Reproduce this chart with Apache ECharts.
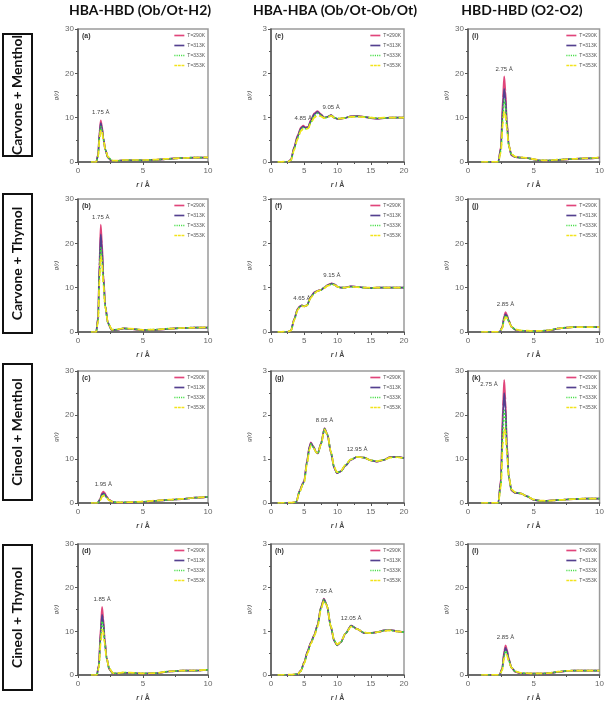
<!DOCTYPE html>
<html><head><meta charset="utf-8">
<script src="https://cdn.jsdelivr.net/npm/echarts@6/dist/echarts.min.js"></script>
<style>html,body{margin:0;padding:0;background:#fff}#c{width:607px;height:703px}</style>
</head><body><div id="c"></div>
<script>
// ---------------- DATA ----------------
const colTitles = ['HBA-HBD (Ob/Ot-H2)', 'HBA-HBA (Ob/Ot-Ob/Ot)', 'HBD-HBD (O2-O2)'];
const rowTitles = ['Carvone + Menthol', 'Carvone + Thymol', 'Cineol + Menthol', 'Cineol + Thymol'];
const temps = ['T=290K', 'T=313K', 'T=333K', 'T=353K'];
const panelLetters = ['(a)','(e)','(i)','(b)','(f)','(j)','(c)','(g)','(k)','(d)','(h)','(l)'];
const xTicksShort = [0, 5, 10];
const xTicksLong = [0, 5, 10, 15, 20];
const yTicksBig = [0, 10, 20, 30];
const yTicksSmall = [0, 1, 2, 3];

// (a) Carvone+Menthol, HBA-HBD
const rA = [1.0, 1.4, 1.55, 1.65, 1.75, 1.85, 1.95, 2.1, 2.3, 2.6, 3.0, 3.5, 4.0, 5.0, 6.0, 7.0, 8.0, 9.0, 10.0];
const gA290 = [0, 0, 1.8, 6.8, 9.4, 8.0, 5.5, 2.8, 1.0, 0.2, 0.2, 0.4, 0.4, 0.4, 0.5, 0.7, 0.9, 1.0, 1.0];
const gA313 = [0, 0, 1.6, 6.3, 8.8, 7.6, 5.3, 2.8, 1.0, 0.25, 0.2, 0.4, 0.4, 0.4, 0.5, 0.7, 0.9, 1.0, 1.0];
const gA333 = [0, 0, 1.4, 5.6, 8.0, 7.1, 5.1, 2.8, 1.1, 0.3, 0.25, 0.4, 0.45, 0.4, 0.5, 0.7, 0.9, 1.0, 1.0];
const gA353 = [0, 0.05, 1.2, 5.0, 7.3, 6.8, 5.0, 2.9, 1.2, 0.35, 0.3, 0.45, 0.45, 0.45, 0.55, 0.75, 0.9, 1.0, 1.05];
const peaksA = [[1.75, 9.4, '1.75 Å', 'top']];

// (b) Carvone+Thymol, HBA-HBD
const rB = [1.0, 1.4, 1.55, 1.65, 1.75, 1.85, 1.95, 2.1, 2.3, 2.6, 3.0, 3.5, 4.0, 5.0, 6.0, 7.0, 8.0, 9.0, 10.0];
const gB290 = [0, 0, 3.5, 16, 24.2, 20, 13, 6, 2.0, 0.4, 0.5, 0.8, 0.7, 0.4, 0.5, 0.7, 0.9, 1.0, 1.0];
const gB313 = [0, 0, 3.2, 15, 22, 18.5, 12.3, 5.8, 2.0, 0.45, 0.5, 0.8, 0.7, 0.45, 0.5, 0.7, 0.9, 1.0, 1.0];
const gB333 = [0, 0, 2.8, 13, 19, 16.5, 11.3, 5.6, 2.1, 0.5, 0.55, 0.8, 0.7, 0.45, 0.55, 0.75, 0.9, 1.0, 1.0];
const gB353 = [0, 0.05, 2.5, 11.5, 17.3, 15.5, 10.8, 5.5, 2.2, 0.55, 0.6, 0.85, 0.75, 0.5, 0.55, 0.75, 0.9, 1.0, 1.05];
const peaksB = [[1.75, 24.2, '1.75 Å', 'top']];

// (c) Cineol+Menthol, HBA-HBD
const rC = [1.0, 1.5, 1.7, 1.85, 1.95, 2.05, 2.2, 2.4, 2.7, 3.0, 3.5, 4.0, 5.0, 6.0, 7.0, 8.0, 9.0, 10.0];
const gC290 = [0, 0, 0.9, 2.3, 2.6, 2.3, 1.5, 0.7, 0.2, 0.1, 0.1, 0.15, 0.25, 0.5, 0.7, 0.9, 1.2, 1.4];
const gC313 = [0, 0, 0.8, 2.0, 2.2, 2.0, 1.35, 0.65, 0.2, 0.1, 0.1, 0.15, 0.25, 0.5, 0.7, 0.9, 1.2, 1.4];
const gC333 = [0, 0, 0.7, 1.7, 1.9, 1.8, 1.25, 0.65, 0.25, 0.12, 0.12, 0.18, 0.3, 0.5, 0.7, 0.9, 1.2, 1.4];
const gC353 = [0, 0.02, 0.6, 1.4, 1.6, 1.55, 1.15, 0.6, 0.25, 0.15, 0.15, 0.2, 0.3, 0.55, 0.75, 0.95, 1.2, 1.4];
const peaksC = [[1.95, 2.6, '1.95 Å', 'top']];

// (d) Cineol+Thymol, HBA-HBD
const rD = [1.0, 1.45, 1.6, 1.75, 1.85, 1.95, 2.05, 2.2, 2.4, 2.7, 3.0, 3.5, 4.0, 5.0, 6.0, 7.0, 8.0, 9.0, 10.0];
const gD290 = [0, 0, 2.3, 11, 15.6, 13, 8.5, 4, 1.3, 0.3, 0.3, 0.5, 0.5, 0.3, 0.4, 0.8, 1.0, 1.0, 1.2];
const gD313 = [0, 0, 2.1, 9.8, 13.8, 12, 8.0, 3.9, 1.4, 0.35, 0.3, 0.5, 0.5, 0.3, 0.4, 0.8, 1.0, 1.0, 1.2];
const gD333 = [0, 0, 1.8, 8.6, 12.3, 11, 7.6, 3.8, 1.4, 0.4, 0.35, 0.55, 0.5, 0.35, 0.45, 0.8, 1.0, 1.0, 1.2];
const gD353 = [0, 0.05, 1.6, 7.3, 10.4, 9.8, 7.2, 3.8, 1.5, 0.45, 0.4, 0.6, 0.55, 0.35, 0.45, 0.85, 1.0, 1.05, 1.2];
const peaksD = [[1.85, 15.6, '1.85 Å', 'top']];

// (e) Carvone+Menthol, HBA-HBA
const rE = [1, 2.5, 3.0, 3.5, 4.0, 4.5, 4.85, 5.2, 5.6, 6.0, 6.5, 7.0, 7.5, 8.0, 8.5, 9.05, 9.5, 10.0, 11, 12, 13, 14, 15, 16, 17, 18, 19, 20];
const gE290 = [0, 0, 0.05, 0.35, 0.6, 0.78, 0.82, 0.78, 0.8, 0.95, 1.1, 1.15, 1.08, 1.0, 1.02, 1.06, 1.0, 0.97, 0.99, 1.03, 1.04, 1.02, 0.99, 0.98, 0.99, 1.0, 1.0, 1.0];
const gE313 = [0, 0, 0.05, 0.33, 0.58, 0.76, 0.8, 0.77, 0.79, 0.93, 1.08, 1.13, 1.07, 1.0, 1.02, 1.06, 1.0, 0.97, 0.99, 1.03, 1.03, 1.02, 0.99, 0.98, 0.99, 1.0, 1.0, 1.0];
const gE333 = [0, 0, 0.04, 0.3, 0.55, 0.73, 0.77, 0.75, 0.77, 0.9, 1.04, 1.1, 1.05, 0.99, 1.01, 1.05, 1.0, 0.98, 0.99, 1.02, 1.03, 1.02, 1.0, 0.99, 0.99, 1.0, 1.0, 1.0];
const gE353 = [0, 0.01, 0.04, 0.28, 0.52, 0.7, 0.75, 0.74, 0.76, 0.88, 1.0, 1.06, 1.03, 0.99, 1.01, 1.04, 1.0, 0.98, 0.99, 1.02, 1.02, 1.01, 1.0, 0.99, 1.0, 1.0, 1.0, 1.0];
const peaksE = [[4.85, 0.82, '4.85 Å', 'top'], [9.05, 1.06, '9.05 Å', 'top']];

// (f) Carvone+Thymol, HBA-HBA
const rF = [1, 2.5, 3.0, 3.5, 4.0, 4.3, 4.65, 5.0, 5.4, 6.0, 6.5, 7.0, 7.5, 8.0, 8.5, 9.15, 9.6, 10.0, 10.5, 11, 12, 13, 14, 15, 16, 17, 18, 19, 20];
const gF290 = [0, 0, 0.03, 0.3, 0.52, 0.58, 0.6, 0.58, 0.6, 0.8, 0.9, 0.93, 0.95, 1.0, 1.06, 1.1, 1.07, 1.02, 1.0, 1.0, 1.03, 1.02, 1.0, 0.99, 1.0, 1.0, 1.0, 1.0, 1.0];
const gF313 = [0, 0, 0.03, 0.29, 0.51, 0.57, 0.6, 0.58, 0.6, 0.79, 0.89, 0.93, 0.95, 1.0, 1.05, 1.09, 1.07, 1.02, 1.0, 1.0, 1.03, 1.02, 1.0, 0.99, 1.0, 1.0, 1.0, 1.0, 1.0];
const gF333 = [0, 0, 0.03, 0.28, 0.5, 0.56, 0.59, 0.58, 0.6, 0.78, 0.88, 0.92, 0.95, 1.0, 1.05, 1.08, 1.06, 1.02, 1.0, 1.0, 1.02, 1.02, 1.0, 0.99, 1.0, 1.0, 1.0, 1.0, 1.0];
const gF353 = [0, 0.01, 0.03, 0.27, 0.49, 0.55, 0.58, 0.58, 0.6, 0.77, 0.87, 0.92, 0.95, 0.99, 1.04, 1.07, 1.06, 1.02, 1.0, 1.0, 1.02, 1.01, 1.0, 1.0, 1.0, 1.0, 1.0, 1.0, 1.0];
const peaksF = [[4.65, 0.6, '4.65 Å', 'top'], [9.15, 1.1, '9.15 Å', 'top']];

// (g) Cineol+Menthol, HBA-HBA
const rG = [1, 3.0, 3.8, 4.3, 4.8, 5.0, 5.4, 5.8, 6.0, 6.4, 6.8, 7.05, 7.5, 8.05, 8.5, 9.0, 9.5, 9.9, 10.5, 11.2, 12.0, 12.95, 14.0, 15.0, 15.9, 17.0, 17.9, 19.0, 20.0];
const gG290 = [0, 0, 0.02, 0.28, 0.45, 0.52, 0.95, 1.3, 1.38, 1.28, 1.15, 1.13, 1.35, 1.7, 1.55, 1.15, 0.8, 0.68, 0.72, 0.85, 0.98, 1.05, 1.03, 0.97, 0.94, 0.98, 1.05, 1.05, 1.02];
const gG313 = [0, 0, 0.02, 0.27, 0.44, 0.5, 0.93, 1.28, 1.36, 1.27, 1.15, 1.13, 1.34, 1.69, 1.55, 1.15, 0.8, 0.68, 0.72, 0.85, 0.98, 1.05, 1.03, 0.97, 0.94, 0.98, 1.04, 1.05, 1.02];
const gG333 = [0, 0, 0.02, 0.26, 0.43, 0.49, 0.9, 1.25, 1.34, 1.26, 1.15, 1.13, 1.33, 1.68, 1.55, 1.16, 0.81, 0.69, 0.72, 0.86, 0.99, 1.05, 1.03, 0.97, 0.95, 0.98, 1.04, 1.04, 1.02];
const gG353 = [0, 0.01, 0.02, 0.25, 0.42, 0.48, 0.88, 1.22, 1.31, 1.25, 1.15, 1.13, 1.32, 1.67, 1.55, 1.17, 0.82, 0.7, 0.73, 0.87, 0.99, 1.05, 1.03, 0.97, 0.95, 0.98, 1.03, 1.04, 1.02];
const peaksG = [[8.05, 1.7, '8.05 Å', 'top'], [12.95, 1.05, '12.95 Å', 'top']];

// (h) Cineol+Thymol, HBA-HBA
const rH = [1, 3.0, 4.0, 4.5, 5.0, 5.5, 6.0, 6.5, 7.0, 7.5, 7.95, 8.4, 9.0, 9.5, 9.95, 10.5, 11.2, 12.05, 13.0, 14.0, 15.0, 16.0, 17.0, 18.0, 19.0, 20.0];
const gH290 = [0, 0, 0.02, 0.1, 0.3, 0.55, 0.75, 0.92, 1.15, 1.55, 1.75, 1.6, 1.1, 0.78, 0.68, 0.75, 0.95, 1.13, 1.05, 0.96, 0.96, 0.98, 1.02, 1.03, 1.0, 0.98];
const gH313 = [0, 0, 0.02, 0.1, 0.29, 0.54, 0.74, 0.91, 1.14, 1.54, 1.74, 1.6, 1.1, 0.78, 0.68, 0.75, 0.95, 1.13, 1.05, 0.96, 0.96, 0.98, 1.02, 1.03, 1.0, 0.98];
const gH333 = [0, 0, 0.02, 0.09, 0.28, 0.52, 0.73, 0.9, 1.12, 1.52, 1.72, 1.6, 1.11, 0.79, 0.69, 0.75, 0.95, 1.12, 1.05, 0.97, 0.96, 0.98, 1.02, 1.02, 1.0, 0.98];
const gH353 = [0, 0.01, 0.02, 0.09, 0.27, 0.5, 0.72, 0.89, 1.1, 1.5, 1.7, 1.59, 1.12, 0.8, 0.7, 0.76, 0.95, 1.11, 1.05, 0.97, 0.96, 0.98, 1.01, 1.02, 1.0, 0.98];
const peaksH = [[7.95, 1.75, '7.95 Å', 'top'], [12.05, 1.13, '12.05 Å', 'top']];

// (i) Carvone+Menthol, HBD-HBD
const rI = [1.0, 2.3, 2.5, 2.65, 2.75, 2.85, 2.95, 3.1, 3.3, 3.6, 4.0, 4.5, 5.0, 5.5, 6.0, 7.0, 8.0, 9.0, 10.0];
const gI290 = [0, 0, 3.5, 14.5, 19.3, 16, 9.5, 3.8, 1.5, 1.1, 1.0, 0.9, 0.6, 0.3, 0.3, 0.5, 0.7, 0.8, 1.0];
const gI313 = [0, 0, 3.1, 12.5, 16.5, 14.2, 8.8, 3.7, 1.6, 1.1, 1.0, 0.9, 0.6, 0.3, 0.3, 0.5, 0.7, 0.8, 1.0];
const gI333 = [0, 0, 2.6, 10.5, 14, 12.5, 8.2, 3.7, 1.7, 1.15, 1.0, 0.9, 0.6, 0.35, 0.35, 0.55, 0.7, 0.8, 1.0];
const gI353 = [0, 0.05, 2.2, 8.6, 11.5, 10.8, 7.6, 3.7, 1.8, 1.2, 1.05, 0.9, 0.65, 0.4, 0.35, 0.55, 0.7, 0.85, 1.0];
const peaksI = [[2.75, 19.3, '2.75 Å', 'top']];

// (j) Carvone+Thymol, HBD-HBD
const rJ = [1.0, 2.4, 2.6, 2.75, 2.85, 2.95, 3.1, 3.3, 3.6, 4.0, 4.5, 5.0, 5.5, 6.0, 7.0, 7.5, 8.0, 9.0, 10.0];
const gJ290 = [0, 0, 1.1, 3.6, 4.5, 4.0, 2.6, 1.2, 0.5, 0.25, 0.2, 0.2, 0.2, 0.3, 0.8, 1.0, 1.1, 1.1, 1.1];
const gJ313 = [0, 0, 1.0, 3.2, 4.0, 3.7, 2.5, 1.2, 0.5, 0.25, 0.2, 0.2, 0.2, 0.3, 0.8, 1.0, 1.1, 1.1, 1.1];
const gJ333 = [0, 0, 0.9, 2.9, 3.7, 3.5, 2.4, 1.2, 0.55, 0.3, 0.25, 0.2, 0.25, 0.35, 0.85, 1.0, 1.1, 1.1, 1.1];
const gJ353 = [0, 0.02, 0.8, 2.6, 3.3, 3.2, 2.3, 1.2, 0.6, 0.35, 0.3, 0.25, 0.25, 0.35, 0.85, 1.0, 1.1, 1.1, 1.1];
const peaksJ = [[2.85, 4.5, '2.85 Å', 'top']];

// (k) Cineol+Menthol, HBD-HBD
const rK = [1.0, 2.3, 2.5, 2.65, 2.75, 2.85, 2.95, 3.1, 3.3, 3.6, 4.0, 4.5, 5.0, 5.5, 6.0, 7.0, 8.0, 9.0, 10.0];
const gK290 = [0, 0, 5.5, 22, 28, 23.5, 14, 6, 2.8, 2.3, 2.2, 1.5, 0.7, 0.5, 0.5, 0.7, 0.9, 1.0, 1.0];
const gK313 = [0, 0, 5, 19.5, 25, 21.5, 13.3, 6, 2.9, 2.3, 2.2, 1.5, 0.7, 0.5, 0.5, 0.7, 0.9, 1.0, 1.0];
const gK333 = [0, 0, 4.3, 16.5, 21, 19, 12.5, 6, 3.0, 2.4, 2.2, 1.5, 0.75, 0.5, 0.5, 0.7, 0.9, 1.0, 1.0];
const gK353 = [0, 0.05, 3.7, 13.3, 17, 16, 11.5, 6, 3.1, 2.4, 2.2, 1.5, 0.8, 0.55, 0.5, 0.7, 0.9, 1.0, 1.0];
const peaksK = [[2.75, 27, '2.75 Å', 'left']];

// (l) Cineol+Thymol, HBD-HBD
const rL = [1.0, 2.4, 2.6, 2.75, 2.85, 2.95, 3.1, 3.3, 3.6, 4.0, 4.5, 5.0, 5.5, 6.0, 7.0, 7.5, 8.0, 9.0, 10.0];
const gL290 = [0, 0, 1.6, 5.5, 6.8, 6.0, 3.8, 1.7, 0.7, 0.4, 0.3, 0.3, 0.3, 0.35, 0.75, 0.95, 1.0, 1.0, 1.0];
const gL313 = [0, 0, 1.4, 5.0, 6.2, 5.6, 3.6, 1.7, 0.75, 0.4, 0.3, 0.3, 0.3, 0.35, 0.75, 0.95, 1.0, 1.0, 1.0];
const gL333 = [0, 0, 1.3, 4.4, 5.5, 5.1, 3.4, 1.7, 0.8, 0.45, 0.35, 0.3, 0.3, 0.4, 0.8, 0.95, 1.0, 1.0, 1.0];
const gL353 = [0, 0.02, 1.1, 3.9, 4.8, 4.6, 3.2, 1.7, 0.85, 0.5, 0.4, 0.35, 0.35, 0.4, 0.8, 0.95, 1.0, 1.0, 1.0];
const peaksL = [[2.85, 6.8, '2.85 Å', 'top']];

// panels in row-major order (row: mixture, col: pair type)
const panels = [
  {r: rA, g: [gA290, gA313, gA333, gA353], peaks: peaksA},
  {r: rE, g: [gE290, gE313, gE333, gE353], peaks: peaksE},
  {r: rI, g: [gI290, gI313, gI333, gI353], peaks: peaksI},
  {r: rB, g: [gB290, gB313, gB333, gB353], peaks: peaksB},
  {r: rF, g: [gF290, gF313, gF333, gF353], peaks: peaksF},
  {r: rJ, g: [gJ290, gJ313, gJ333, gJ353], peaks: peaksJ},
  {r: rC, g: [gC290, gC313, gC333, gC353], peaks: peaksC},
  {r: rG, g: [gG290, gG313, gG333, gG353], peaks: peaksG},
  {r: rK, g: [gK290, gK313, gK333, gK353], peaks: peaksK},
  {r: rD, g: [gD290, gD313, gD333, gD353], peaks: peaksD},
  {r: rH, g: [gH290, gH313, gH333, gH353], peaks: peaksH},
  {r: rL, g: [gL290, gL313, gL333, gL353], peaks: peaksL}
];

// ---------------- LAYOUT / STYLE ----------------
const colLeft = [78, 271, 468];
const colWidth = [130, 133, 132];
const colTitleCenter = [140, 335, 522];
const rowTop = [29, 199, 371, 544];
const rowHeight = [133, 133, 132, 131];
const lineColors = ['#e0457b', '#54408f', '#3ddc3d', '#f2e31c'];
const lineTypes = ['solid', 'solid', 'dotted', 'dashed'];
const legendIcons = [
  'path://M0,0h12v2h-12z',
  'path://M0,0h12v2h-12z',
  'path://M0,0h1.3v2h-1.3zM2.7,0h1.3v2h-1.3zM5.4,0h1.3v2h-1.3zM8.1,0h1.3v2h-1.3zM10.7,0h1.3v2h-1.3z',
  'path://M0,0h3.4v2h-3.4zM4.3,0h3.4v2h-3.4zM8.6,0h3.4v2h-3.4z'
];
const boxTop = [34, 194, 364, 545];
const boxHeight = [122, 139, 136, 145];
const titleFont = "Lato, 'Noto Sans', sans-serif";

const grid = [], xAxis = [], yAxis = [], series = [], legend = [], title = [];
const tickColor = '#555';
panels.forEach((p, i) => {
  const row = Math.floor(i / 3), col = i % 3;
  const longX = col === 1;
  grid.push({left: colLeft[col], top: rowTop[row], width: colWidth[col], height: rowHeight[row],
    show: true, borderColor: '#9a9a9a', borderWidth: 1.5, containLabel: false});
  const xt = longX ? xTicksLong : xTicksShort;
  const yt = longX ? yTicksSmall : yTicksBig;
  xAxis.push({type: 'value', gridIndex: i, min: xt[0], max: xt[xt.length - 1], interval: xt[1] - xt[0],
    name: '{i|r} / Å', nameLocation: 'middle', nameGap: 20,
    nameTextStyle: {fontSize: 7, color: '#444', fontWeight: 'bold', rich: {i: {fontStyle: 'italic', fontSize: 7, fontWeight: 'bold', color: '#444'}}},
    axisLine: {show: true, onZero: false, lineStyle: {color: tickColor, width: 1.5}},
    axisTick: {show: true, length: 3, lineStyle: {color: tickColor}},
    minorTick: {show: true, splitNumber: 2, length: 2, lineStyle: {color: tickColor}},
    axisLabel: {fontSize: 8, color: '#666', margin: 5},
    splitLine: {show: false}});
  yAxis.push({type: 'value', gridIndex: i, min: yt[0], max: yt[yt.length - 1], interval: yt[1] - yt[0],
    name: 'g(r)', nameLocation: 'middle', nameGap: 19, nameRotate: 90,
    nameTextStyle: {fontSize: 6, color: '#555', fontStyle: 'italic'},
    axisLine: {show: true, onZero: false, lineStyle: {color: tickColor, width: 1.5}},
    axisTick: {show: true, length: 3, lineStyle: {color: tickColor}},
    minorTick: {show: true, splitNumber: 2, length: 2, lineStyle: {color: tickColor}},
    axisLabel: {fontSize: 8, color: '#666', margin: 4},
    splitLine: {show: false}});
  temps.forEach((t, k) => {
    const s = {
      type: 'line', name: t, xAxisIndex: i, yAxisIndex: i,
      data: p.r.map((x, j) => [x, p.g[k][j]]),
      showSymbol: false, symbol: 'none', smooth: 0.25, smoothMonotone: 'x',
      lineStyle: {color: lineColors[k], width: 1.7, type: lineTypes[k]},
      itemStyle: {color: lineColors[k]},
      z: 2 + k, silent: true, animation: false
    };
    if (k === 0) {
      s.markPoint = {
        symbol: 'circle', symbolSize: 1, itemStyle: {color: 'rgba(0,0,0,0)'},
        data: p.peaks.map(pk => ({coord: [pk[0], pk[1]], name: pk[2],
          label: {show: true, position: pk[3], distance: pk[3] === 'top' ? 4 : 6, formatter: pk[2],
            fontSize: 6, color: '#444'}}))
      };
    }
    series.push(s);
  });
  legend.push({data: temps.map((t, k) => ({name: t, icon: legendIcons[k], itemStyle: {color: lineColors[k]}})),
    orient: 'vertical', right: 607 - (colLeft[col] + colWidth[col]) + 3,
    top: rowTop[row] + 4, itemWidth: 10, itemHeight: 2, itemGap: 5, padding: 0,
    textStyle: {fontSize: 5, color: '#555', padding: [0, 0, 0, -2]}, selectedMode: false});
  title.push({text: panelLetters[i], left: colLeft[col] + 4, top: rowTop[row] + 4, padding: 0,
    textStyle: {fontSize: 7, fontWeight: 'bold', color: '#333', fontFamily: 'Liberation Sans'}});
});

colTitles.forEach((t, c) => {
  title.push({text: t, left: colTitleCenter[c], top: 3, textAlign: 'center', padding: 0,
    textStyle: {fontSize: 14, fontWeight: 'bold', color: '#111', fontFamily: titleFont}});
});

const graphic = [];
rowTitles.forEach((t, r) => {
  graphic.push({type: 'rect', shape: {x: 3, y: boxTop[r], width: 29, height: boxHeight[r]},
    style: {fill: '#fff', stroke: '#111', lineWidth: 2}});
  graphic.push({type: 'text', x: 17.5, y: boxTop[r] + boxHeight[r] / 2, rotation: Math.PI / 2,
    style: {text: t, fontSize: 14, fontWeight: 'bold', fill: '#111', fontFamily: titleFont,
      textAlign: 'center', textVerticalAlign: 'middle'}});
});

const chart = echarts.init(document.getElementById('c'), null, {renderer: 'canvas'});
chart.setOption({backgroundColor: '#fff', animation: false, title, grid, xAxis, yAxis, series, legend, graphic});
</script></body></html>
